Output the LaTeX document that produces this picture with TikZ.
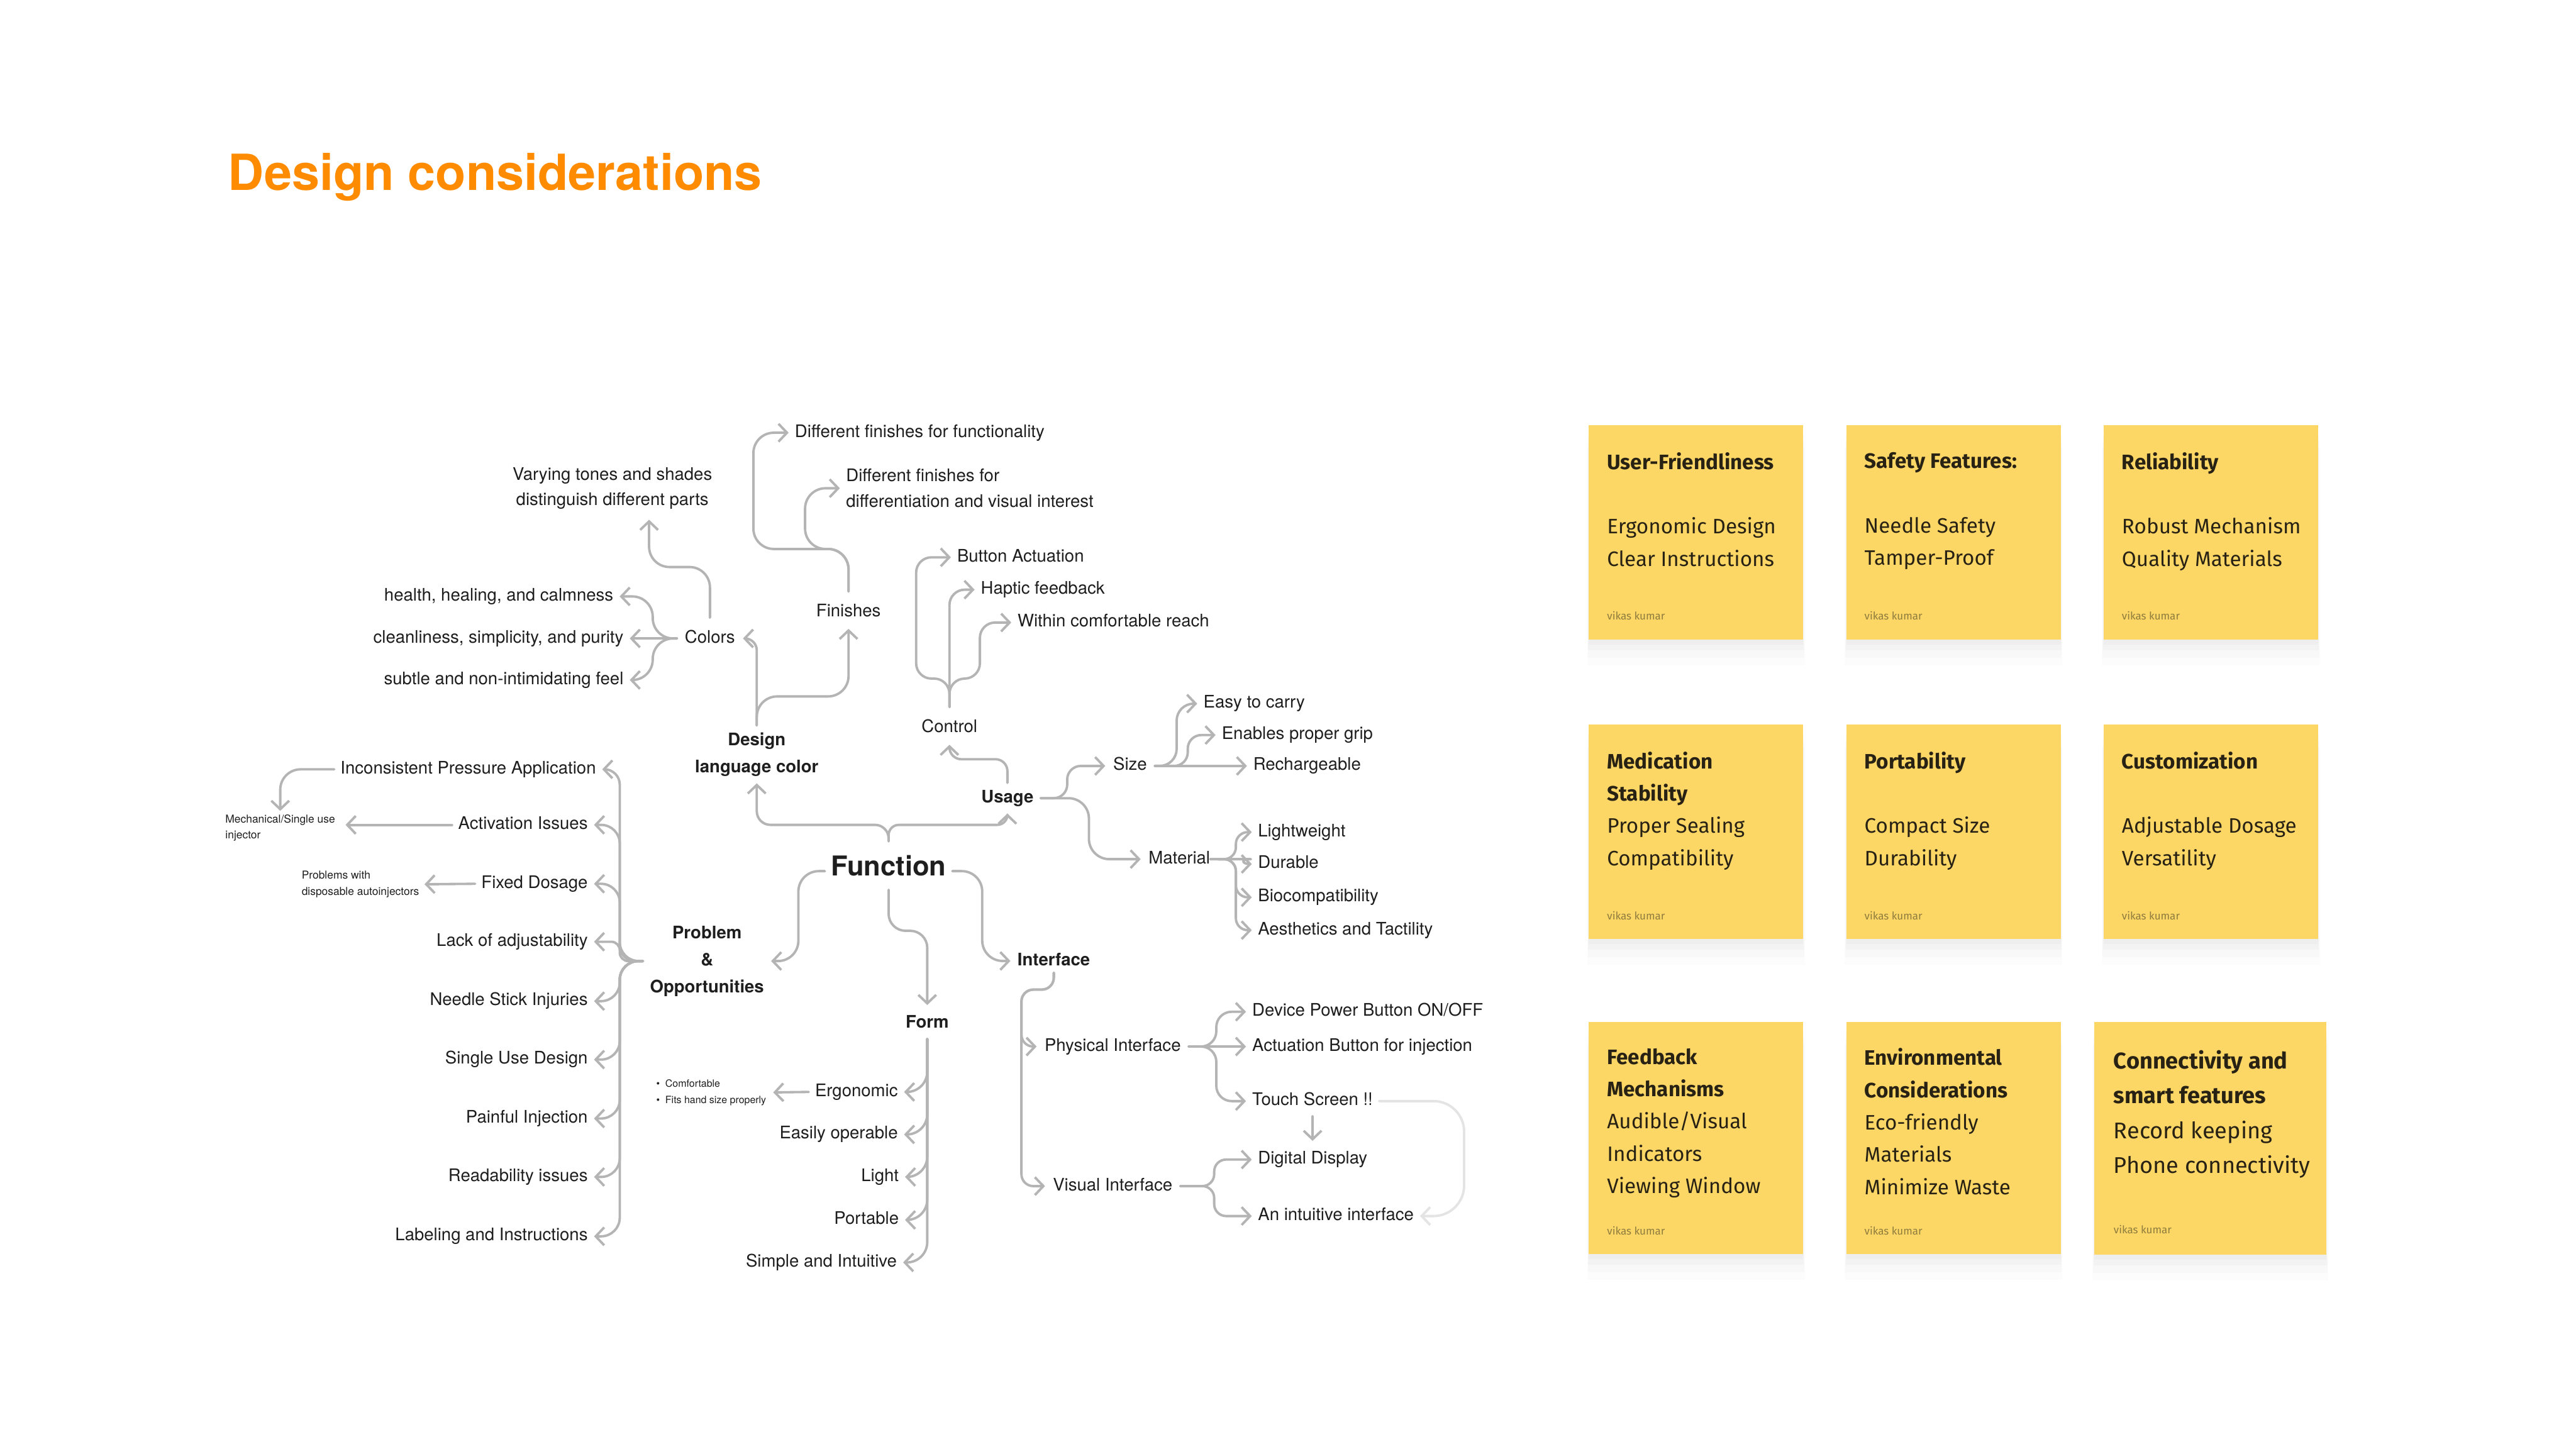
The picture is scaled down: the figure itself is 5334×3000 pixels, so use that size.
\documentclass[tikz,border=0pt]{standalone}
\usepackage{fontspec}
\setmainfont{TeX Gyre Heros}
\newfontfamily\notefont{Fira Sans}
\usepackage{xcolor}
\usepackage{tikz}
\usetikzlibrary{positioning,arrows.meta,calc,shadows}
\definecolor{Ink}{RGB}{30,30,30}
\definecolor{LinkGrey}{RGB}{180,180,180}
\definecolor{LoopGrey}{RGB}{228,228,228}
\definecolor{TitleOrange}{RGB}{255,140,0}
\definecolor{StickyFill}{RGB}{253,215,102}
\definecolor{StickyInk}{RGB}{40,34,20}
\definecolor{ByLine}{RGB}{142,124,62}

\begin{document}
\begin{tikzpicture}[x=0.01cm,y=-0.01cm,
link/.style={draw=LinkGrey,line width=1.42pt,line cap=round,line join=round,rounded corners=12pt},
arr/.style={link,-{Straight Barb[length=5pt,width=10.5pt]}},
lf/.style={font=\fontsize{10.2}{15}\selectfont,text=Ink,inner xsep=3.5pt,inner ysep=2pt},
sub/.style={lf,anchor=mid,inner xsep=4.5pt,inner ysep=7pt},
hub/.style={font=\bfseries\fontsize{10.2}{15.9}\selectfont,text=Ink,align=center,inner xsep=4pt,inner ysep=4pt},
lbl/.style={font=\fontsize{6.45}{9.4}\selectfont,text=Ink,align=left,inner sep=2pt},
sticky/.style={fill=StickyFill,anchor=north west,inner sep=0pt,
  drop shadow={shadow xshift=0pt,shadow yshift=-3pt,opacity=.04},
  drop shadow={shadow xshift=0pt,shadow yshift=-6pt,shadow scale=1.005,opacity=.035},
  drop shadow={shadow xshift=0pt,shadow yshift=-10pt,shadow scale=1.01,opacity=.03},
  drop shadow={shadow xshift=0pt,shadow yshift=-14pt,shadow scale=1.015,opacity=.02}},
stxt/.style={font=\notefont\fontsize{12.3}{19}\selectfont,text=StickyInk,align=left,anchor=north west,inner sep=0pt},
byl/.style={font=\notefont\fontsize{6.3}{8}\selectfont,text=ByLine,anchor=mid west,inner sep=0pt}
]
\fill[white] (0,0) rectangle (5334,3000);
\useasboundingbox (0,0) rectangle (5334,3000);

\node[font=\bfseries\fontsize{29.3}{34}\selectfont,text=TitleOrange,anchor=base west,inner sep=0pt] (title) at (472,394) {Design considerations};

% main branches
\node[hub,anchor=base,inner xsep=3.5pt,inner ysep=8pt,font=\bfseries\fontsize{16.1}{19}\selectfont] (fn) at (1840,1813) {Function};
\node[hub,anchor=base] (usage) at (2086,1662) {Usage};
\node[hub] (design) at (1567,1562) {Design\\language color};
\node[hub] (problem) at (1464,1990) {Problem\\\&\\Opportunities};
\node[hub,anchor=base,inner ysep=6pt] (form) at (1920,2129) {Form};
\node[hub,anchor=base] (iface) at (2182,1999) {Interface};

\node[sub] (colors) at (1470,1322) {Colors};
\node[sub] (finishes) at (1757,1267) {Finishes};
\node[sub] (control) at (1966,1507) {Control};
\node[sub] (size) at (2340,1586) {Size};
\node[sub] (material) at (2442,1779) {Material};
\node[sub] (phys) at (2304,2167) {Physical Interface};
\node[sub] (visual) at (2304,2456) {Visual Interface};

% leaves
\node[lf,align=center,inner ysep=6pt] (vary) at (1268,1011) {Varying tones and shades\\distinguish different parts};
\node[lf,anchor=mid east] (col1) at (1283,1235) {health, healing, and calmness};
\node[lf,anchor=mid east] (col2) at (1304,1322) {cleanliness, simplicity, and purity};
\node[lf,anchor=mid east] (col3) at (1304,1408) {subtle and non-intimidating feel};
\node[lf,anchor=mid west] (fin1) at (1633,896) {Different finishes for functionality};
\node[lf,anchor=west,align=left] (fin2) at (1739,1011) {Different finishes for\\differentiation and visual interest};
\node[lf,anchor=mid west] (ctl1) at (1969,1154) {Button Actuation};
\node[lf,anchor=mid west] (ctl2) at (2018,1221) {Haptic feedback};
\node[lf,anchor=mid west] (ctl3) at (2094,1289) {Within comfortable reach};
\node[lf,anchor=mid west] (sz1) at (2479,1457) {Easy to carry};
\node[lf,anchor=mid west] (sz2) at (2517,1522) {Enables proper grip};
\node[lf,anchor=mid west] (sz3) at (2582,1586) {Rechargeable};
\node[lf,anchor=mid west] (mat1) at (2592,1723) {Lightweight};
\node[lf,anchor=mid west] (mat2) at (2592,1789) {Durable};
\node[lf,anchor=mid west] (mat3) at (2592,1858) {Biocompatibility};
\node[lf,anchor=mid west] (mat4) at (2592,1926) {Aesthetics and Tactility};
\node[lf,anchor=mid west] (ph1) at (2580,2095) {Device Power Button ON/OFF};
\node[lf,anchor=mid west] (ph2) at (2580,2167) {Actuation Button for injection};
\node[lf,anchor=mid west] (ph3) at (2580,2280) {Touch Screen !!};
\node[lf,anchor=mid west] (vi1) at (2592,2401) {Digital Display};
\node[lf,anchor=mid west] (vi2) at (2592,2518) {An intuitive interface};

\node[lf,anchor=mid east] (p1) at (1247,1593) {Inconsistent Pressure Application};
\node[lf,anchor=mid east] (p2) at (1230,1708) {Activation Issues};
\node[lf,anchor=mid east] (p3) at (1230,1830) {Fixed Dosage};
\node[lf,anchor=mid east] (p4) at (1230,1950) {Lack of adjustability};
\node[lf,anchor=mid east] (p5) at (1230,2073) {Needle Stick Injuries};
\node[lf,anchor=mid east] (p6) at (1230,2194) {Single Use Design};
\node[lf,anchor=mid east] (p7) at (1230,2316) {Painful Injection};
\node[lf,anchor=mid east] (p8) at (1230,2437) {Readability issues};
\node[lf,anchor=mid east] (p9) at (1230,2560) {Labeling and Instructions};
\node[lbl,anchor=north west,inner xsep=6pt] (mech) at (445,1679) {Mechanical/Single use\\injector};
\node[lbl,anchor=east,inner xsep=3pt] (dispo) at (879,1831) {Problems with\\disposable autoinjectors};

\node[lf,anchor=mid east] (fm1) at (1872,2261) {Ergonomic};
\node[lf,anchor=mid east] (fm2) at (1872,2349) {Easily operable};
\node[lf,anchor=mid east] (fm3) at (1874,2437) {Light};
\node[lf,anchor=mid east] (fm4) at (1874,2526) {Portable};
\node[lf,anchor=mid east] (fm5) at (1870,2614) {Simple and Intuitive};
\node[lbl,anchor=east,inner xsep=4pt,font=\fontsize{5.9}{9.7}\selectfont] (bul) at (1601,2262) {\textbullet\ \ Comfortable\\\textbullet\ \ Fits hand size properly};

% connectors
\draw[arr,rounded corners=8pt] (fn.north) -- ++(0,-34) -| (design.south);
\draw[arr,rounded corners=6pt] (fn.north) -- ++(0,-34) -| (usage.south);
\draw[arr,rounded corners=10pt] (fn.south) -- ++(0,85) -| (form.north);
\draw[arr] (fn.mid west) -- ++(-55,0) |- (problem.east);
\draw[arr] (fn.mid east) -- ++(62,0) |- (iface.mid west);

\draw[arr,rounded corners=7pt] (design.north) |- (colors.mid east);
\draw[arr] (design.north) -- ++(0,-60) -| (finishes.south);

\coordinate (varyin) at ($(vary.south)+(76,0)$);
\draw[arr] (colors.north) -- ++(0,-105) -| (varyin);
\draw[arr] (colors.mid west) -- ++(-50,0) |- (col1.mid east);
\draw[arr] (colors.mid west) -- (col2.mid east);
\draw[arr] (colors.mid west) -- ++(-50,0) |- (col3.mid east);

\draw[arr] (finishes.north) |- ++(-197,-88) |- (fin1.mid west);
\draw[arr] (finishes.north) |- ++(-90,-88) |- (fin2.west);

\draw[arr,rounded corners=7pt] (usage.north) -- ++(0,-49) -| (control.south);
\draw[arr,rounded corners=9pt] (control.north) |- ++(-69,-59) |- (ctl1.mid west);
\draw[arr,rounded corners=9pt] (control.north) |- (ctl2.mid west);
\draw[arr,rounded corners=9pt] (control.north) |- ++(63,-59) |- (ctl3.mid west);

\draw[arr,rounded corners=8pt] (usage.mid east) -- ++(55,0) |- (size.mid west);
\draw[arr] (usage.mid east) -- ++(100,0) |- (material.mid west);
\draw[arr,rounded corners=10pt] (size.mid east) -- ++(45,0) |- (sz1.mid west);
\draw[arr,rounded corners=8pt] (size.mid east) -- ++(68,0) |- (sz2.mid west);
\draw[arr] (size.mid east) -- (sz3.mid west);

\draw[arr,rounded corners=7pt] (material.mid east) -- ++(37,0) |- (mat1.mid west);
\draw[arr] (material.mid east) -- ++(26,0) .. controls +(18,0) and +(-18,0) .. (mat2.mid west);
\draw[arr,rounded corners=7pt] (material.mid east) -- ++(37,0) |- (mat3.mid west);
\draw[arr,rounded corners=7pt] (material.mid east) -- ++(37,0) |- (mat4.mid west);

\draw[arr,rounded corners=9pt] (problem.west) -- ++(-48,0) |- (p1.mid east);
\draw[arr,rounded corners=11pt] (problem.west) -- ++(-48,0) |- (p2.mid east);
\draw[arr,rounded corners=11pt] (problem.west) -- ++(-48,0) |- (p3.mid east);
\draw[arr,rounded corners=5pt] (problem.west) -- ++(-48,0) |- (p4.mid east);
\draw[arr,rounded corners=11pt] (problem.west) -- ++(-48,0) |- (p5.mid east);
\draw[arr,rounded corners=11pt] (problem.west) -- ++(-48,0) |- (p6.mid east);
\draw[arr,rounded corners=11pt] (problem.west) -- ++(-48,0) |- (p7.mid east);
\draw[arr,rounded corners=11pt] (problem.west) -- ++(-48,0) |- (p8.mid east);
\draw[arr,rounded corners=11pt] (problem.west) -- ++(-48,0) |- (p9.mid east);
\draw[arr] (p1.mid west) -| (mech.north);
\draw[arr] (p2.mid west) -- (p2.mid west -| mech.east);
\draw[arr] (p3.mid west) -- (dispo.east);

\draw[arr] (form.south) |- (fm1.mid east);
\draw[arr] (form.south) |- (fm2.mid east);
\draw[arr] (form.south) |- (fm3.mid east);
\draw[arr] (form.south) |- (fm4.mid east);
\draw[arr] (form.south) |- (fm5.mid east);
\draw[arr] (fm1.mid west) -- (bul.east);

\draw[arr,rounded corners=7pt] (iface.south) |- ++(-67,35) |- (phys.mid west);
\draw[arr,rounded corners=7pt] (iface.south) |- ++(-67,35) |- (visual.mid west);
\draw[arr,rounded corners=9pt] (phys.mid east) -- ++(57,0) |- (ph1.mid west);
\draw[arr] (phys.mid east) -- (ph2.mid west);
\draw[arr,rounded corners=9pt] (phys.mid east) -- ++(57,0) |- (ph3.mid west);
\draw[arr,rounded corners=7pt] (visual.mid east) -- ++(70,0) |- (vi1.mid west);
\draw[arr,rounded corners=7pt] (visual.mid east) -- ++(70,0) |- (vi2.mid west);
\draw[arr] ($(ph3.south)+(0,14)$) -- ($(ph3.south |- vi1.north)+(0,-14)$);
\draw[arr,draw=LoopGrey,rounded corners=18pt] (ph3.mid east) -- ++(176,0) |- (vi2.mid east);

% sticky notes
\node[sticky,minimum width=4.44cm,minimum height=4.43cm] (uf) at (3289,880) {};
\node[stxt] (uf-t) at ($(uf.north west)+(38,56)$) {\textbf{User-Friendliness}\\[19pt]Ergonomic Design\\Clear Instructions};
\node[byl] (uf-b) at ($(uf.south west)+(38,-50)$) {vikas kumar};

\node[sticky,minimum width=4.44cm,minimum height=4.43cm] (safe) at (3822,880) {};
\node[stxt] (safe-t) at ($(safe.north west)+(38,56)$) {\textbf{Safety Features:}\\[19pt]Needle Safety\\Tamper-Proof};
\node[byl] (safe-b) at ($(safe.south west)+(38,-50)$) {vikas kumar};

\node[sticky,minimum width=4.44cm,minimum height=4.43cm] (rel) at (4355,880) {};
\node[stxt] (rel-t) at ($(rel.north west)+(38,56)$) {\textbf{Reliability}\\[19pt]Robust Mechanism\\Quality Materials};
\node[byl] (rel-b) at ($(rel.south west)+(38,-50)$) {vikas kumar};

\node[sticky,minimum width=4.44cm,minimum height=4.43cm] (med) at (3289,1500) {};
\node[stxt] (med-t) at ($(med.north west)+(38,56)$) {\textbf{Medication}\\\textbf{Stability}\\Proper Sealing\\Compatibility};
\node[byl] (med-b) at ($(med.south west)+(38,-50)$) {vikas kumar};

\node[sticky,minimum width=4.44cm,minimum height=4.43cm] (port) at (3822,1500) {};
\node[stxt] (port-t) at ($(port.north west)+(38,56)$) {\textbf{Portability}\\[19pt]Compact Size\\Durability};
\node[byl] (port-b) at ($(port.south west)+(38,-50)$) {vikas kumar};

\node[sticky,minimum width=4.44cm,minimum height=4.43cm] (cust) at (4355,1500) {};
\node[stxt] (cust-t) at ($(cust.north west)+(38,56)$) {\textbf{Customization}\\[19pt]Adjustable Dosage\\Versatility};
\node[byl] (cust-b) at ($(cust.south west)+(38,-50)$) {vikas kumar};

\node[sticky,minimum width=4.44cm,minimum height=4.80cm] (fb) at (3289,2116) {};
\node[stxt] (fb-t) at ($(fb.north west)+(38,54)$) {\textbf{Feedback}\\\textbf{Mechanisms}\\Audible/Visual\\Indicators\\Viewing Window};
\node[byl] (fb-b) at ($(fb.south west)+(38,-50)$) {vikas kumar};

\node[sticky,minimum width=4.44cm,minimum height=4.80cm] (env) at (3822,2116) {};
\node[stxt] (env-t) at ($(env.north west)+(38,54)$) {\textbf{Environmental}\\\textbf{Considerations}\\Eco-friendly\\Materials\\Minimize Waste};
\node[byl] (env-b) at ($(env.south west)+(38,-50)$) {vikas kumar};

\node[sticky,minimum width=4.80cm,minimum height=4.81cm] (conn) at (4336,2116) {};
\node[stxt,font=\notefont\fontsize{13.4}{20.5}\selectfont] (conn-t) at ($(conn.north west)+(40,58)$) {\textbf{Connectivity and}\\\textbf{smart features}\\Record keeping\\Phone connectivity};
\node[byl] (conn-b) at ($(conn.south west)+(40,-54)$) {vikas kumar};
\end{tikzpicture}
\end{document}
